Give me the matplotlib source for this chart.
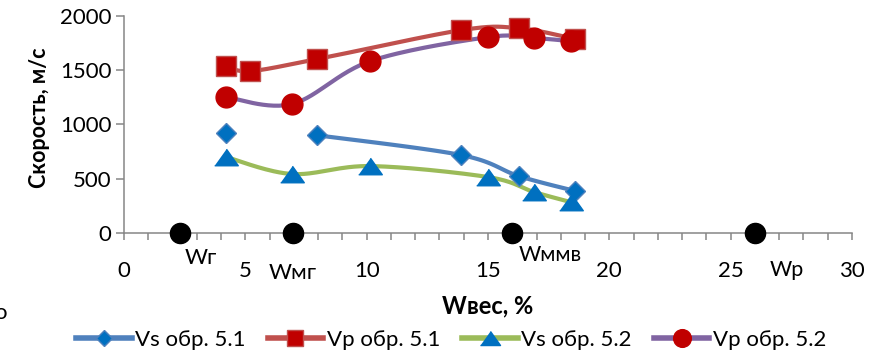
import numpy as np
import matplotlib
matplotlib.use("Agg")
from matplotlib import pyplot as plt
from matplotlib.lines import Line2D

plt.rcParams['font.family'] = ['Lato', 'DejaVu Sans']

# sample 5.1 (Vs has a blank cell at the 2nd moisture value)
w_51 = [4.2, 5.2, 7.95, 13.9, 16.27, 18.6]
vs_51 = [920, np.nan, 900, 717, 524, 386]
vp_51 = [1536, 1490, 1600, 1867, 1885, 1785]

# sample 5.2
w_52 = [4.2, 6.92, 10.15, 15.0, 16.9, 18.4]
vs_52 = [700, 543, 616, 515, 377, 285]
vp_52 = [1251, 1187, 1582, 1803, 1794, 1766]

# characteristic moisture points on the axis
w_points = [2.3, 6.96, 16.0, 26.0]
w_point_values = [0, 0, 0, 0]
w_point_labels = ["Wг", "Wмг", "Wммв", "Wр"]

series_names = ["Vs обр. 5.1", "Vp обр. 5.1", "Vs обр. 5.2", "Vp обр. 5.2"]


def smooth_runs(x, y, n=30):
    # Excel-like smoothed line (Catmull-Rom bezier), broken at blank cells
    x = np.asarray(x, float)
    y = np.asarray(y, float)
    ok = np.isfinite(y)
    runs, cur = [], []
    for i in range(len(x)):
        if ok[i]:
            cur.append(i)
        else:
            if cur:
                runs.append(cur)
            cur = []
    if cur:
        runs.append(cur)
    out = []
    for run in runs:
        if len(run) < 2:
            continue
        pts = np.column_stack([x[run], y[run]])
        xs, ys = [], []
        t = np.linspace(0, 1, n)[:, None]
        for i in range(len(pts) - 1):
            p0 = pts[max(i - 1, 0)]
            p1 = pts[i]
            p2 = pts[i + 1]
            p3 = pts[min(i + 2, len(pts) - 1)]
            c1 = p1 + (p2 - p0) / 6
            c2 = p2 - (p3 - p1) / 6
            b = ((1 - t) ** 3) * p1 + 3 * ((1 - t) ** 2) * t * c1 + 3 * (1 - t) * t ** 2 * c2 + t ** 3 * p2
            xs.extend(b[:, 0])
            ys.extend(b[:, 1])
        out.append((xs, ys))
    return out


tri = [(-1, -0.7), (1, -0.7), (0, 0.7)]

styles = [
    dict(color="#4F81BD", marker="D", ms=10, mfc="#0070C0", mec="#4F81BD"),
    dict(color="#C0504D", marker="s", ms=14, mfc="#C00000", mec="#C0504D"),
    dict(color="#9BBB59", marker=tri, ms=17, mfc="#0070C0", mec="#0070C0"),
    dict(color="#8064A2", marker="o", ms=15, mfc="#C00000", mec="#C00000"),
]

fig = plt.figure(figsize=(8.84, 3.6), dpi=100)
ax = fig.add_axes([124 / 884, 1 - 233 / 360, 728 / 884, 217.3 / 360])

data = [(w_51, vs_51), (w_51, vp_51), (w_52, vs_52), (w_52, vp_52)]
handles = []
for (xv, yv), st, name in zip(data, styles, series_names):
    for xs, ys in smooth_runs(xv, yv):
        ax.plot(xs, ys, color=st["color"], lw=3, solid_capstyle="round", zorder=2)
    ax.plot(xv, yv, ls="none", marker=st["marker"], ms=st["ms"], mfc=st["mfc"],
            mec=st["mec"], mew=1, zorder=3, clip_on=False)
    handles.append(Line2D([], [], color=st["color"], lw=4, marker=st["marker"], ms=st["ms"] * 0.85,
                          mfc=st["mfc"], mec=st["mec"], mew=1))

ax.plot(w_points, w_point_values, ls="none", marker="o", ms=14.5, color="black",
        zorder=4, clip_on=False)
label_offsets = [(15, -18), (0, -29), (27, -16), (23, -27)]
label_sizes = [16, 16, 15.5, 15.5]
for xp, yp, lab, off, fs in zip(w_points, w_point_values, w_point_labels, label_offsets, label_sizes):
    ax.annotate(lab, (xp, yp), xytext=off, textcoords="offset points",
                ha="center", va="center", fontsize=fs)

ax.set_xlim(0, 30)
ax.set_ylim(0, 2000)
ax.set_xticks(np.arange(0, 31, 5))
ax.set_xticks(np.arange(0, 31, 1), minor=True)
ax.set_yticks(np.arange(0, 2001, 500))
for side in ["top", "right"]:
    ax.spines[side].set_visible(False)
for side in ["left", "bottom"]:
    ax.spines[side].set_color("#868686")
    ax.spines[side].set_linewidth(1.1)
ax.tick_params(axis="x", which="both", direction="out", length=5, color="#868686",
               width=1.1, labelsize=16, pad=15)
ax.tick_params(axis="y", direction="out", length=6, color="#868686", width=1.1,
               labelsize=16, pad=3)

ax.set_xlabel("Wвес, %", fontsize=17, fontweight="bold", labelpad=10)
ax.set_ylabel("Скорость, м/с", fontsize=15.5, fontweight="bold", labelpad=2)
ax.yaxis.set_label_coords(-74 / 728, 0.53)

fig.legend(handles, series_names, loc="center", bbox_to_anchor=(451 / 884, 1 - 340 / 360),
           ncol=4, frameon=False, fontsize=16, handlelength=2.5, handletextpad=0.15,
           columnspacing=1.0, borderaxespad=0)

fig.text(0.0, 1 - 313 / 360, "о", ha="center", va="center", fontsize=16)

fig.savefig("out.png", dpi=100)
